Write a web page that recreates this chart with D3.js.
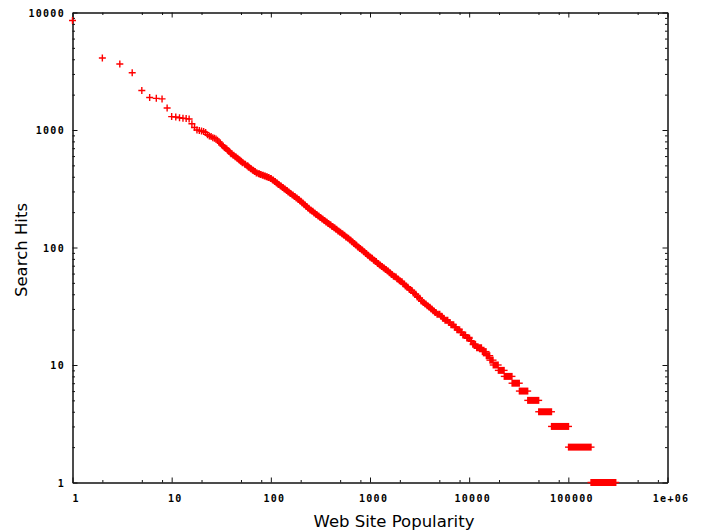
<!DOCTYPE html>
<html>
<head>
<meta charset="utf-8">
<script src="https://cdn.jsdelivr.net/npm/d3@7"></script>
<style>
  html, body { margin: 0; padding: 0; background: #fff; }
  svg { display: block; }
  .tick-label { font-family: "DejaVu Sans Mono", monospace; font-weight: bold; font-size: 10px; letter-spacing: 1.3px; fill: #000; }
  .axis-title { font-family: "DejaVu Sans", sans-serif; font-size: 16.5px; fill: #000; }
</style>
</head>
<body>
<script>
// Rank-frequency of search hits per web site (log-log).

// Top-ranked sites, one point per rank
const headRanks = [1, 2, 3, 4, 5, 6, 7, 8, 9, 10, 11, 12, 13, 14, 15, 16, 17, 18, 19, 20,
  21, 22, 23, 24, 25, 26, 27, 28, 29, 30, 31, 32, 33, 34, 35, 36, 37, 38, 39];
const headHits = [8550, 4100, 3640, 3070, 2170, 1890, 1860, 1840, 1540, 1300, 1290, 1270, 1260, 1250, 1240, 1130, 1050, 1000, 990, 980,
  970, 950, 910, 890, 880, 860, 850, 840, 820, 790, 770, 750, 730, 710, 700, 690, 670, 660, 640];

// Middle of the distribution
const bandRanks = [40, 42, 44, 46, 48, 50, 52, 55, 58, 60, 63, 66, 69, 72, 76, 79, 83, 87, 91, 95,
  100, 105, 110, 115, 120, 126, 132, 138, 145, 151, 158, 166, 174, 182, 191, 200, 209, 219, 229, 240,
  251, 263, 275, 288, 302, 316, 331, 347, 363, 380, 398, 417, 437, 457, 479, 501, 525, 550, 575, 603,
  631, 661, 692, 724, 759, 794, 832, 871, 912, 955, 1000, 1047, 1096, 1148, 1202, 1259, 1318, 1380, 1445, 1514,
  1585, 1660, 1738, 1820, 1905, 1995, 2089, 2188, 2291, 2399, 2512, 2630, 2754, 2884, 3020, 3162, 3311, 3467, 3631, 3802,
  3981, 4169, 4365, 4571, 4786, 5012, 5248, 5495, 5754, 6026, 6310, 6607, 6918, 7244, 7586, 7943, 8318, 8710, 9120, 9550,
  10000, 10471, 10965, 11482, 12023, 12589, 13183];
const bandHits = [628, 610, 592, 575, 558, 542, 527, 512, 497, 483, 469, 455, 443, 430, 425, 418, 412, 406, 400, 394,
  386, 375, 364, 354, 344, 333, 324, 315, 305, 297, 288, 280, 272, 264, 256, 247, 239, 231, 223, 216,
  209, 203, 197, 191, 185, 180, 175, 170, 165, 160, 156, 151, 147, 143, 138, 135, 131, 127, 123, 120,
  116, 112, 108, 105, 101, 98, 95, 92, 89, 86, 83, 81, 78, 76, 73, 71, 69, 67, 65, 63,
  61, 59, 57, 56, 54, 52, 51, 49, 47, 46, 44, 43, 41, 40, 38, 37, 35, 34, 33, 32,
  31, 30, 29, 28, 27, 27, 26, 25, 24, 24, 23, 22, 22, 21, 20, 20, 19, 18, 18, 17,
  17, 16, 15, 15, 14, 14, 14];

// Long tail: runs of consecutive ranks sharing the same hit count
const tailHits      = [13, 12, 11, 10, 9, 8, 7, 6, 5, 4, 3, 2, 1];
const tailFirstRank = [13600, 14900, 16200, 17500, 19700, 22600, 27100, 32100, 39000, 50300, 67700, 100500, 169400];
const tailLastRank  = [14800, 16100, 17400, 19600, 22500, 27000, 32000, 38900, 50200, 67600, 100400, 169300, 300600];

// Axis ticks
const xMajorTicks = [1, 10, 100, 1000, 10000, 100000, 1000000];
const xTickLabels = ["1", "10", "100", "1000", "10000", "100000", "1e+06"];
const xMinorMultipliers = [2, 5, 8];
const yMajorTicks = [1, 10, 100, 1000, 10000];
const yTickLabels = ["1", "10", "100", "1000", "10000"];
const yMinorMultipliers = [2, 3, 4, 5, 6, 7, 8, 9];

const W = 705, H = 531;
const plot = { left: 72.5, right: 667.5, top: 12.5, bottom: 482.5 };
const MARK = 3.5;
const RED = "#ff0000";

const svg = d3.select("body").append("svg").attr("width", W).attr("height", H);

const x = d3.scaleLog().domain([1, 1e6]).range([plot.left, plot.right]);
const y = d3.scaleLog().domain([1, 1e4]).range([plot.bottom, plot.top]);

const xMinor = [];
xMajorTicks.slice(0, -1).forEach(d => xMinorMultipliers.forEach(m => xMinor.push(d * m)));
const yMinor = [];
yMajorTicks.slice(0, -1).forEach(d => yMinorMultipliers.forEach(m => yMinor.push(d * m)));

function styleAxis(g) {
  g.selectAll("path.domain").attr("stroke", "#111").attr("stroke-width", 1);
  g.selectAll("line").attr("stroke", "#111").attr("stroke-width", 1);
  g.selectAll("text").remove();
}

// frame + ticks on all four sides, ticks pointing inward
const axes = [
  { gen: d3.axisBottom(x), t: `translate(0,${plot.bottom})`, major: xMajorTicks, minor: xMinor },
  { gen: d3.axisTop(x),    t: `translate(0,${plot.top})`,    major: xMajorTicks, minor: xMinor },
  { gen: d3.axisLeft(y),   t: `translate(${plot.left},0)`,   major: yMajorTicks, minor: yMinor },
  { gen: d3.axisRight(y),  t: `translate(${plot.right},0)`,  major: yMajorTicks, minor: yMinor }
];
axes.forEach(a => {
  svg.append("g").attr("transform", a.t)
    .call(a.gen.tickValues(a.minor).tickSizeInner(-2.5).tickSizeOuter(0).tickFormat(""))
    .call(styleAxis);
  svg.append("g").attr("transform", a.t)
    .call(a.gen.tickValues(a.major).tickSizeInner(-5).tickSizeOuter(0).tickFormat(""))
    .call(styleAxis);
});

// tick labels
svg.append("g").selectAll("text").data(xMajorTicks).join("text")
  .attr("class", "tick-label")
  .attr("x", d => x(d) + 3.6)
  .attr("y", plot.bottom + 19.5)
  .attr("text-anchor", "middle")
  .text((d, i) => xTickLabels[i]);

svg.append("g").selectAll("text").data(yMajorTicks).join("text")
  .attr("class", "tick-label")
  .attr("x", plot.left - 7.5)
  .attr("y", d => y(d) + 4.3)
  .attr("text-anchor", "end")
  .text((d, i) => yTickLabels[i]);

// axis titles
svg.append("text").attr("class", "axis-title")
  .attr("x", 394).attr("y", 527)
  .attr("text-anchor", "middle")
  .text("Web Site Popularity");

svg.append("text").attr("class", "axis-title")
  .attr("transform", "translate(27,250) rotate(-90)")
  .attr("text-anchor", "middle")
  .text("Search Hits");

// "+" markers
const plusPath = (r, h) => {
  const cx = x(r), cy = y(h);
  return `M${cx - MARK},${cy}H${cx + MARK}M${cx},${cy - MARK}V${cy + MARK}`;
};
const headPts = headRanks.map((r, i) => ({ r, h: headHits[i] }));
const bandPts = bandRanks.map((r, i) => ({ r, h: bandHits[i] }));

svg.append("g").attr("stroke", RED).attr("fill", "none").attr("stroke-width", 1.4)
  .selectAll("path").data(headPts).join("path")
  .attr("d", d => plusPath(d.r, d.h));

// the dense middle ranks overlap into a solid band
svg.append("g").attr("stroke", RED).attr("fill", "none").attr("stroke-width", 2.1)
  .selectAll("path").data(bandPts).join("path")
  .attr("d", d => plusPath(d.r, d.h));

// tail runs: a "+" at every rank in the run merges into a bar with arms at both ends
const runs = tailHits.map((h, i) => ({ h, a: tailFirstRank[i], b: tailLastRank[i] }));
const runG = svg.append("g");
runG.selectAll("rect").data(runs).join("rect")
  .attr("x", d => x(d.a) - 0.7)
  .attr("y", d => y(d.h) - MARK)
  .attr("width", d => x(d.b) - x(d.a) + 1.4)
  .attr("height", MARK * 2)
  .attr("fill", RED);
runG.selectAll("path").data(runs).join("path")
  .attr("d", d => `M${x(d.a) - MARK},${y(d.h)}H${x(d.b) + MARK}`)
  .attr("stroke", RED).attr("stroke-width", 1.4).attr("fill", "none");
</script>
</body>
</html>
